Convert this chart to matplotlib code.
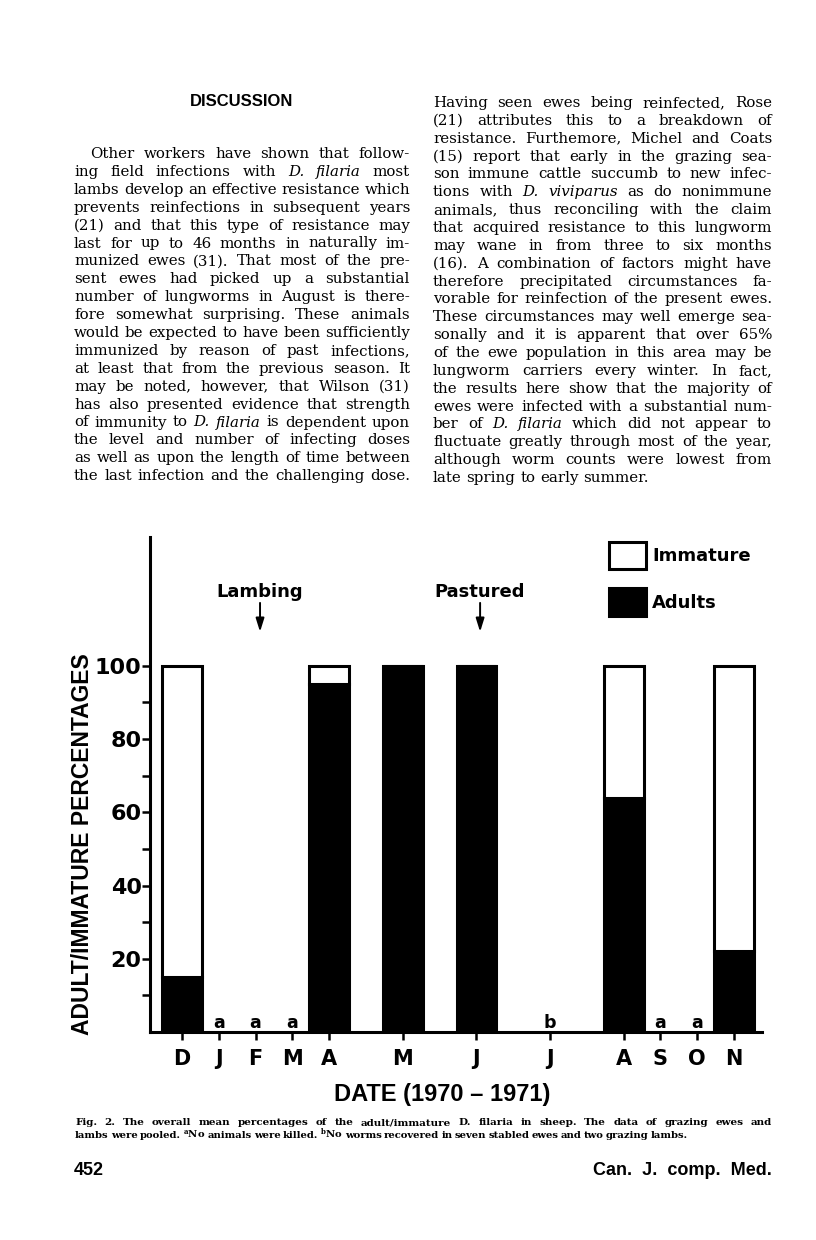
import matplotlib
matplotlib.use("AGG")
import matplotlib.pyplot as plt

# ---- chart data ----
month_labels = ['D', 'J', 'F', 'M', 'A', 'M', 'J', 'J', 'A', 'S', 'O', 'N']
month_pos = [0, 1, 2, 3, 4, 6, 8, 10, 12, 13, 14, 15]
bar_pos = [0, 4, 6, 8, 12, 15]
adults = [15, 95, 100, 100, 64, 22]
immature = [85, 5, 0, 0, 36, 78]
no_kill_pos = [1, 2, 3, 13, 14]      # "a": no animals killed
no_worm_pos = [10]                   # "b": no worms recovered
events = ['Lambing', 'Pastured']
event_pos = [2.12, 8.1]

# ---- page text ----
title = 'DISCUSSION'
left_col = [
    "Other workers have shown that follow-",
    "ing field infections with _D. _filaria most",
    "lambs develop an effective resistance which",
    "prevents reinfections in subsequent years",
    "(21) and that this type of resistance may",
    "last for up to 46 months in naturally im-",
    "munized ewes (31). That most of the pre-",
    "sent ewes had picked up a substantial",
    "number of lungworms in August is there-",
    "fore somewhat surprising. These animals",
    "would be expected to have been sufficiently",
    "immunized by reason of past infections,",
    "at least that from the previous season. It",
    "may be noted, however, that Wilson (31)",
    "has also presented evidence that strength",
    "of immunity to _D. _filaria is dependent upon",
    "the level and number of infecting doses",
    "as well as upon the length of time between",
    "the last infection and the challenging dose.",
]
right_col = [
    "Having seen ewes being reinfected, Rose",
    "(21) attributes this to a breakdown of",
    "resistance. Furthemore, Michel and Coats",
    "(15) report that early in the grazing sea-",
    "son immune cattle succumb to new infec-",
    "tions with _D. _viviparus as do nonimmune",
    "animals, thus reconciling with the claim",
    "that acquired resistance to this lungworm",
    "may wane in from three to six months",
    "(16). A combination of factors might have",
    "therefore precipitated circumstances fa-",
    "vorable for reinfection of the present ewes.",
    "These circumstances may well emerge sea-",
    "sonally and it is apparent that over 65%",
    "of the ewe population in this area may be",
    "lungworm carriers every winter. In fact,",
    "the results here show that the majority of",
    "ewes were infected with a substantial num-",
    "ber of _D. _filaria which did not appear to",
    "fluctuate greatly through most of the year,",
    "although worm counts were lowest from",
    "late spring to early summer.",
]
caption = [
    "Fig. 2. The overall mean percentages of the adult/immature D. filaria in sheep. The data of grazing ewes and",
    r"lambs were pooled. $^{\mathbf{a}}$No animals were killed. $^{\mathbf{b}}$No worms recovered in seven stabled ewes and two grazing lambs.",
]
page_no = '452'
journal = 'Can.  J.  comp.  Med.'

plt.rcParams['mathtext.fontset'] = 'dejavuserif'

W, H = 816, 1240
fig = plt.figure(figsize=(W / 100, H / 100), dpi=100)

# full-page overlay in pixel coordinates for the text
page = fig.add_axes([0, 0, 1, 1])
page.set_xlim(0, W)
page.set_ylim(H, 0)
page.axis('off')
page.patch.set_visible(False)

renderer = fig.canvas.get_renderer()


def put_line(line, x0, x1, y, size, family='DejaVu Serif', weight='normal', justify=True):
    words = line.split()
    arts = []
    for w in words:
        style = 'normal'
        if w.startswith('_'):
            w = w[1:]
            style = 'italic'
        t = page.text(0, y, w, fontsize=size, family=family, weight=weight,
                      style=style, ha='left', va='baseline')
        arts.append(t)

    def measure():
        return [a.get_window_extent(renderer).width for a in arts]

    widths = measure()
    minsp = size * 100 / 72 * 0.25
    avail = x1 - x0
    need = sum(widths) + minsp * (len(arts) - 1)
    if need > avail:
        f = (avail - minsp * (len(arts) - 1)) / sum(widths)
        for a in arts:
            a.set_fontsize(size * f)
        widths = measure()
    if justify and len(arts) > 1:
        gap = (avail - sum(widths)) / (len(arts) - 1)
    else:
        gap = size * 100 / 72 * 0.32
    x = x0
    for a, w in zip(arts, widths):
        a.set_x(x)
        x += w + gap


body_size = 10.8
page.text(242, 106, title, fontsize=12, family='Liberation Sans', weight='bold',
          ha='center', va='baseline')

lx0, lx1, ly0 = 74, 410, 158
for i, line in enumerate(left_col):
    x0 = 90 if i == 0 else lx0
    put_line(line, x0, lx1, ly0 + i * 17.9, body_size)

rx0, rx1, ry0 = 433, 772, 107
for i, line in enumerate(right_col):
    last = i == len(right_col) - 1
    put_line(line, rx0, rx1, ry0 + i * 17.86, body_size, justify=not last)

put_line(caption[0], 75, 772, 1125, 7.5, weight='bold')
put_line(caption[1], 75, 688, 1138, 7.5, weight='bold')

page.text(74, 1175, page_no, fontsize=13, family='Liberation Sans', weight='bold',
          ha='left', va='baseline')
page.text(772, 1175, journal, fontsize=13, family='Liberation Sans', weight='bold',
          ha='right', va='baseline')

# ---- the chart ----
ax = fig.add_axes([150 / W, (H - 1032) / H, 612 / W, 495 / H])
ax.set_zorder(2)
ax.patch.set_visible(False)

bw = 1.08
lw = 2.2
b_adult = ax.bar(bar_pos, adults, width=bw, color='black', edgecolor='black',
                 linewidth=lw, label='Adults')
b_imm = ax.bar(bar_pos, immature, width=bw, bottom=adults, color='white',
               edgecolor='black', linewidth=lw, label='Immature')

for x in no_kill_pos:
    ax.text(x, 1.0, 'a', fontsize=12.5, weight='bold', ha='center', va='baseline')
for x in no_worm_pos:
    ax.text(x, 1.0, 'b', fontsize=12.5, weight='bold', ha='center', va='baseline')

for name, x in zip(events, event_pos):
    ax.text(x, 118.9, name, fontsize=13, weight='bold', ha='center', va='baseline')
    ax.annotate('', xy=(x, 109.3), xytext=(x, 117.2),
                arrowprops=dict(arrowstyle='-|>,head_length=0.8,head_width=0.25',
                                color='black', lw=1.4, mutation_scale=10,
                                shrinkA=0, shrinkB=0))

ax.set_xlim(-0.87, 15.76)
ax.set_ylim(0, 135.2)
for s in ['top', 'right']:
    ax.spines[s].set_visible(False)
for s in ['left', 'bottom']:
    ax.spines[s].set_linewidth(2.2)

ax.set_yticks([20, 40, 60, 80, 100])
ax.set_yticks([10, 30, 50, 70, 90], minor=True)
ax.set_xticks(month_pos)
ax.set_xticklabels(month_labels)
ax.tick_params(axis='y', which='major', direction='out', length=5.5, width=1.8,
               pad=0.5, labelsize=16)
ax.tick_params(axis='y', which='minor', direction='out', length=5.5, width=1.8)
ax.tick_params(axis='x', direction='out', length=6, width=1.8, pad=6, labelsize=15)
for t in ax.get_xticklabels() + ax.get_yticklabels():
    t.set_fontweight('bold')

ax.set_ylabel('ADULT/IMMATURE PERCENTAGES', family='Liberation Sans',
              weight='bold', fontsize=16.5)
ax.yaxis.set_label_coords(-0.092, 0.38)
ax.set_xlabel('DATE (1970 \u2013 1971)', family='Liberation Sans', weight='bold',
              fontsize=17)
ax.xaxis.set_label_coords(0.477, -0.103)

ax.legend([b_imm, b_adult], ['Immature', 'Adults'], loc='upper left',
          bbox_to_anchor=(609 / W, 1 - 542 / H), bbox_transform=fig.transFigure,
          frameon=False, handlelength=2.05, handleheight=1.95, handletextpad=0.33,
          labelspacing=1.05, borderpad=0, borderaxespad=0,
          prop=dict(weight='bold', size=13))

fig.savefig('out.png', dpi=100)
